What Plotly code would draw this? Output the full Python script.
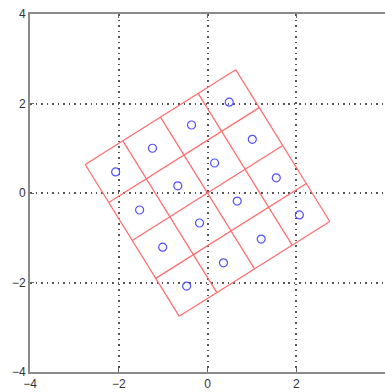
import numpy as np
import plotly.graph_objects as go

# Cell boundaries of the square lattice before rotation
grid_levels = [-2, -1, 0, 1, 2]
# Rotation applied to the lattice (degrees, counter-clockwise)
angle_deg = 32

# One sample point per lattice cell
point_x = [-2.07, -1.24, -0.36, 0.49, -1.53, -0.67, 0.16, 1.01,
           -1.01, -0.18, 0.67, 1.55, -0.47, 0.36, 1.21, 2.07]
point_y = [0.47, 1.00, 1.52, 2.03, -0.38, 0.16, 0.67, 1.20,
           -1.21, -0.67, -0.18, 0.34, -2.08, -1.56, -1.03, -0.49]

tick_vals = [-4, -2, 0, 2, 4]

theta = np.deg2rad(angle_deg)
c, s = np.cos(theta), np.sin(theta)
lo, hi = min(grid_levels), max(grid_levels)


def rotate(u, v):
    return u * c - v * s, u * s + v * c


lx, ly = [], []
for g in grid_levels:
    # line of constant u
    x0, y0 = rotate(g, lo)
    x1, y1 = rotate(g, hi)
    lx += [x0, x1, None]
    ly += [y0, y1, None]
    # line of constant v
    x0, y0 = rotate(lo, g)
    x1, y1 = rotate(hi, g)
    lx += [x0, x1, None]
    ly += [y0, y1, None]

fig = go.Figure()
fig.add_trace(go.Scatter(
    x=lx, y=ly, mode="lines",
    line=dict(color="#ff6a6a", width=1.2),
    hoverinfo="skip", showlegend=False,
))
fig.add_trace(go.Scatter(
    x=point_x, y=point_y, mode="markers",
    marker=dict(symbol="circle-open", size=8, color="#5050ff",
                line=dict(width=1.2)),
    showlegend=False,
))

axis_common = dict(
    range=[-4, 4], tickvals=tick_vals, showgrid=True,
    gridcolor="#555555", griddash="1.5px,4px", gridwidth=1.5,
    zeroline=False, showline=True, linecolor="#8a8a8a", linewidth=2,
    ticks="inside", ticklen=4, tickcolor="#666666",
    tickfont=dict(family="Liberation Sans", size=12, color="#333333"),
)

fig.update_xaxes(**axis_common, mirror="ticks")
fig.update_yaxes(**axis_common, mirror=False)

fig.update_layout(
    width=385, height=392,
    margin=dict(l=30, r=0, t=14, b=20),
    paper_bgcolor="white", plot_bgcolor="white",
)

fig.write_html("out.html")
